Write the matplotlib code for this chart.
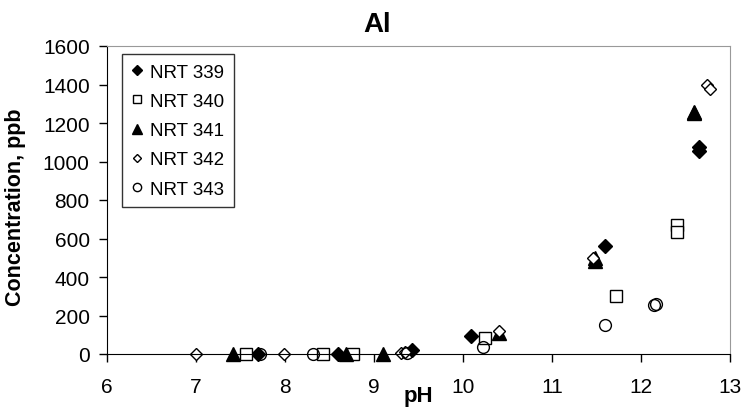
import matplotlib.pyplot as plt

plt.rcParams['font.family'] = ['Liberation Sans', 'DejaVu Sans']

# pH / concentration (ppb) per sample
ph_339 = [7.70, 8.60, 9.43, 10.09, 11.60, 12.65, 12.65]
al_339 = [0, 0, 20, 93, 563, 1074, 1052]

ph_340 = [7.56, 8.43, 8.76, 10.25, 11.72, 12.40, 12.40]
al_340 = [0, 0, 0, 82, 303, 668, 632]

ph_341 = [7.42, 8.69, 9.10, 10.40, 11.48, 11.48, 12.59, 12.59]
al_341 = [0, 0, 0, 110, 500, 485, 1250, 1258]

ph_342 = [7.00, 7.99, 9.30, 9.35, 10.41, 11.46, 12.74, 12.78]
al_342 = [0, 0, 5, 8, 122, 497, 1395, 1378]

ph_343 = [7.72, 8.32, 9.37, 10.23, 11.59, 12.15, 12.17]
al_343 = [0, 0, 5, 35, 150, 252, 258]

labels = ['NRT 339', 'NRT 340', 'NRT 341', 'NRT 342', 'NRT 343']

fig = plt.figure(figsize=(7.46, 4.10), dpi=100)
ax = fig.add_axes([107 / 746, 1 - 355 / 410, 623 / 746, 308 / 410])

kw = dict(ls='none', mec='black', mew=1, clip_on=False)
ax.plot(ph_339, al_339, marker='D', ms=7, mfc='black', label=labels[0], **kw)
ax.plot(ph_340, al_340, marker='s', ms=8.5, mfc='white', label=labels[1], **kw)
ax.plot(ph_341, al_341, marker='^', ms=9.5, mfc='black', label=labels[2], **kw)
ax.plot(ph_342, al_342, marker='D', ms=6.5, mfc='white', label=labels[3], **kw)
ax.plot(ph_343, al_343, marker='o', ms=8.5, mfc='none', label=labels[4], **kw)

ax.set_xlim(6, 13)
ax.set_ylim(0, 1600)
ax.set_xticks(range(6, 14))
ax.set_yticks(range(0, 1601, 200))
ax.tick_params(labelsize=15, length=5.5, width=1, color='black')
ax.tick_params(axis='x', pad=11)
ax.tick_params(axis='y', pad=7)
for s in ['top', 'right']:
    ax.spines[s].set_color('#999999')
for s in ['left', 'bottom']:
    ax.spines[s].set_color('black')

fig.text(377 / 746, 1 - 32 / 410, 'Al', fontsize=20, fontweight='bold',
         ha='center', va='baseline')
fig.text(16 / 746, 1 - 207 / 410, 'Concentration, ppb', fontsize=15.5,
         fontweight='bold', rotation=90, ha='center', va='center')
fig.text(418 / 746, 1 - 402 / 410, 'pH', fontsize=16, fontweight='bold',
         ha='center', va='baseline')

leg = ax.legend(loc='upper left', bbox_to_anchor=(0.0246, 0.974), fontsize=13.5,
                frameon=True, fancybox=False, edgecolor='black',
                markerscale=0.7, handlelength=0.6, handletextpad=0.4,
                labelspacing=0.65, borderpad=0.5, borderaxespad=0)
leg.get_frame().set_linewidth(1)

fig.savefig('out.png', dpi=100)
